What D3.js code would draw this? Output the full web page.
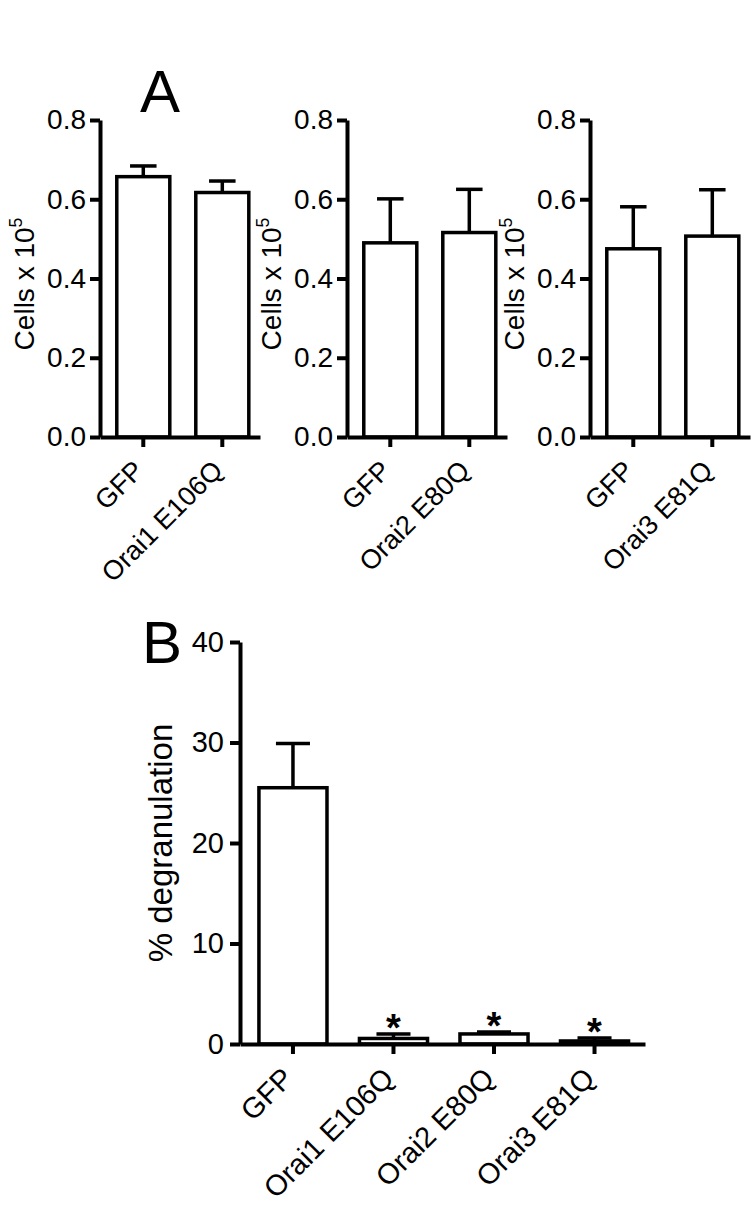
<!DOCTYPE html>
<html><head><meta charset="utf-8">
<script src="https://cdn.jsdelivr.net/npm/d3@7"></script>
<style>
body{margin:0;background:#fff}
svg text{font-family:"Liberation Sans",Arial,Helvetica,sans-serif;fill:#000}
</style>
</head><body>
<svg id="c" width="753" height="1207"></svg>
<script>
// ---- Data ----
const catsA1 = ["GFP", "Orai1 E106Q"];
const meanA1 = [0.657, 0.617];
const semA1  = [0.027, 0.029];

const catsA2 = ["GFP", "Orai2 E80Q"];
const meanA2 = [0.490, 0.516];
const semA2  = [0.111, 0.109];

const catsA3 = ["GFP", "Orai3 E81Q"];
const meanA3 = [0.475, 0.507];
const semA3  = [0.106, 0.117];

const ticksA = [0, 0.2, 0.4, 0.6, 0.8];

const catsB = ["GFP", "Orai1 E106Q", "Orai2 E80Q", "Orai3 E81Q"];
const meanB = [25.5, 0.55, 1.0, 0.3];
const semB  = [4.4, 0.45, 0.2, 0.3];
const sigB  = [false, true, true, true];
const ticksB = [0, 10, 20, 30, 40];

// ---- Drawing ----
const svg = d3.select("#c");

function drawChart(o) {
  const g = svg.append("g");
  const x = d3.scaleBand().domain(o.cats).range([o.x0, o.x0 + o.w])
    .paddingInner(o.pi).paddingOuter(o.po).align(o.align);
  const y = d3.scaleLinear().domain([0, o.max]).range([o.yb, o.yt]);
  const bw = x.bandwidth();
  const data = o.cats.map((c, i) => ({c, v: o.vals[i], e: o.errs[i], s: o.sig ? o.sig[i] : false}));

  // error bars
  g.selectAll(".eb").data(data).join("line")
    .attr("x1", d => x(d.c) + bw / 2).attr("x2", d => x(d.c) + bw / 2)
    .attr("y1", d => y(d.v)).attr("y2", d => y(d.v + d.e))
    .attr("stroke", "#000").attr("stroke-width", o.lw);
  g.selectAll(".cap").data(data).join("line")
    .attr("x1", d => x(d.c) + bw / 4).attr("x2", d => x(d.c) + bw * 3 / 4)
    .attr("y1", d => y(d.v + d.e)).attr("y2", d => y(d.v + d.e))
    .attr("stroke", "#000").attr("stroke-width", o.lw);

  // bars
  g.selectAll(".bar").data(data).join("rect")
    .attr("x", d => x(d.c)).attr("width", bw)
    .attr("y", d => y(d.v)).attr("height", d => y(0) - y(d.v))
    .attr("fill", "#fff").attr("stroke", "#000").attr("stroke-width", o.lw);

  // significance
  g.selectAll(".sig").data(data.filter(d => d.s)).join("text")
    .attr("x", d => x(d.c) + bw / 2).attr("y", d => y(d.v + d.e) + 7)
    .attr("text-anchor", "middle").style("font-size", o.starSize + "px")
    .style("font-weight", "bold").text("*");

  // y axis
  const ya = g.append("g").attr("transform", `translate(${o.x0},0)`)
    .call(d3.axisLeft(y).tickValues(o.ticks).tickFormat(o.fmt).tickSize(10).tickSizeOuter(0).tickPadding(o.tpad));
  // x axis
  const xa = g.append("g").attr("transform", `translate(0,${o.yb})`)
    .call(d3.axisBottom(x).tickSize(10).tickSizeOuter(0));
  [ya, xa].forEach(a => {
    a.select(".domain").attr("stroke", "#000").attr("stroke-width", o.aw);
    a.selectAll(".tick line").attr("stroke", "#000").attr("stroke-width", o.aw);
    a.selectAll("text").attr("fill", "#000");
  });
  ya.selectAll("text").style("font-size", o.tickSize + "px");
  xa.selectAll("text")
    .style("font-size", o.xlabSize + "px")
    .attr("x", 2).attr("y", o.xlabDy).attr("dy", 0)
    .attr("text-anchor", "end")
    .attr("transform", `rotate(-45 2 ${o.xlabDy})`);

  // y label
  const yl = g.append("text")
    .attr("transform", `translate(${o.x0 + o.ylabDx},${o.ylabY}) rotate(-90)`)
    .attr("text-anchor", "middle").style("font-size", o.ylabSize + "px");
  yl.append("tspan").text(o.ylab);
  if (o.ylabSup) {
    yl.append("tspan").attr("dy", -12).style("font-size", (o.ylabSize * 0.63) + "px").text(o.ylabSup);
  }
}

const fmtA = d3.format(".1f");
const commonA = {max: 0.8, yt: 120, yb: 437, w: 160, pi: 0.329, po: 0.177, align: 0.6,
  ticks: ticksA, fmt: fmtA, lw: 3.5, aw: 4, tickSize: 28, tpad: 4, xlabSize: 27, xlabDy: 35,
  ylab: "Cells x 10", ylabSup: "5", ylabSize: 28, ylabDx: -66, ylabY: 284};

drawChart(Object.assign({}, commonA, {cats: catsA1, vals: meanA1, errs: semA1, x0: 100}));
drawChart(Object.assign({}, commonA, {cats: catsA2, vals: meanA2, errs: semA2, x0: 347}));
drawChart(Object.assign({}, commonA, {cats: catsA3, vals: meanA3, errs: semA3, x0: 590}));

drawChart({cats: catsB, vals: meanB, errs: semB, sig: sigB, x0: 240, w: 405,
  pi: 0.323, po: 0.176, align: 0.535, max: 40, yt: 642, yb: 1044,
  ticks: ticksB, fmt: d3.format("d"), lw: 3.5, aw: 4, tickSize: 29, tpad: 6,
  xlabSize: 29, xlabDy: 36, starSize: 38,
  ylab: "% degranulation", ylabSize: 33, ylabDx: -68, ylabY: 843});

// panel letters
svg.append("text").attr("x", 160).attr("y", 112).attr("text-anchor", "middle")
  .style("font-size", "60px").text("A");
svg.append("text").attr("x", 142).attr("y", 663)
  .style("font-size", "60px").text("B");
</script>
</body></html>
